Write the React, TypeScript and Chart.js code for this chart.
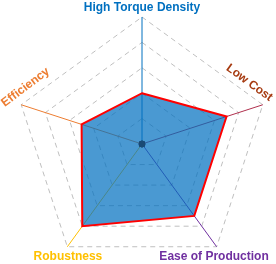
import React, { useEffect, useRef } from 'react';
import { Chart, registerables } from 'chart.js';

Chart.register(...registerables);

const axisLabels = ['High Torque Density', 'Low Cost', 'Ease of Production', 'Robustness', 'Efficiency'];
const scores = [2, 3.5, 3.5, 4, 2.5];
const centerMark = [0, 0, 0, 0, 0];
const scaleMin = 0;
const scaleMax = 5;
const scaleStep = 1;

const labelColors = ['#0070C0', '#A63A10', '#7030A0', '#FFC000', '#ED7D31'];
const axisColors = ['#0070C0', '#B0304E', '#7030A0', '#FFC000', '#ED7D31'];
// [dx, dy, rotationDeg] offsets from the outer vertex for each label
const labelPlacement: [number, number, number][] = [
  [0, -9, 0],
  [-13.5, -22, 36],
  [-2.6, 10, 0],
  [0.6, 10, 0],
  [4.3, -17.5, -37],
];

const rotatedLabels = {
  id: 'rotatedLabels',
  afterDraw(chart: any) {
    const scale = chart.scales.r;
    const ctx = chart.ctx;
    ctx.save();
    ctx.font = 'bold 12px "Liberation Sans", Arial, sans-serif';
    ctx.textAlign = 'center';
    ctx.textBaseline = 'middle';
    axisLabels.forEach((text, i) => {
      const p = scale.getPointPosition(i, scale.drawingArea);
      const [dx, dy, rot] = labelPlacement[i];
      ctx.save();
      ctx.translate(p.x + dx, p.y + dy);
      ctx.rotate((rot * Math.PI) / 180);
      ctx.fillStyle = labelColors[i];
      ctx.fillText(text, 0, 0);
      ctx.restore();
    });
    ctx.restore();
  },
};

export default function App() {
  const ref = useRef<HTMLCanvasElement | null>(null);
  useEffect(() => {
    if (!ref.current) return;
    const chart = new Chart(ref.current, {
      type: 'radar',
      data: {
        labels: axisLabels,
        datasets: [
          {
            data: centerMark,
            borderWidth: 0,
            backgroundColor: 'rgba(0,0,0,0)',
            fill: false,
            pointRadius: 3.2,
            pointBackgroundColor: '#1A4A75',
            pointBorderColor: '#1A4A75',
            pointBorderWidth: 0,
            order: 0,
          },
          {
            data: scores,
            borderColor: '#FF0000',
            borderWidth: 2,
            backgroundColor: 'rgba(0,112,192,0.71)',
            fill: true,
            pointRadius: 0,
            pointHoverRadius: 0,
            order: 1,
          },
        ],
      },
      options: {
        animation: false,
        responsive: true,
        maintainAspectRatio: false,
        layout: { padding: { left: 15, right: 7, top: 17, bottom: 9 } },
        plugins: { legend: { display: false }, tooltip: { enabled: false } },
        scales: {
          r: {
            min: scaleMin,
            max: scaleMax,
            ticks: { display: false, stepSize: scaleStep },
            pointLabels: { display: false },
            grid: { color: '#BFBFBF', lineWidth: 1 },
            border: { dash: [5, 4] } as any,
            angleLines: {
              color: (c: any) => axisColors[c.index],
              lineWidth: 1,
            },
          },
        },
      },
      plugins: [rotatedLabels],
    });
    return () => chart.destroy();
  }, []);
  return (
    <div style={{ position: 'fixed', left: 0, top: 0, width: 276, height: 264, overflow: 'hidden', background: '#fff' }}>
      <div style={{ position: 'relative', width: 276, height: 280 }}>
        <canvas ref={ref} />
      </div>
    </div>
  );
}
